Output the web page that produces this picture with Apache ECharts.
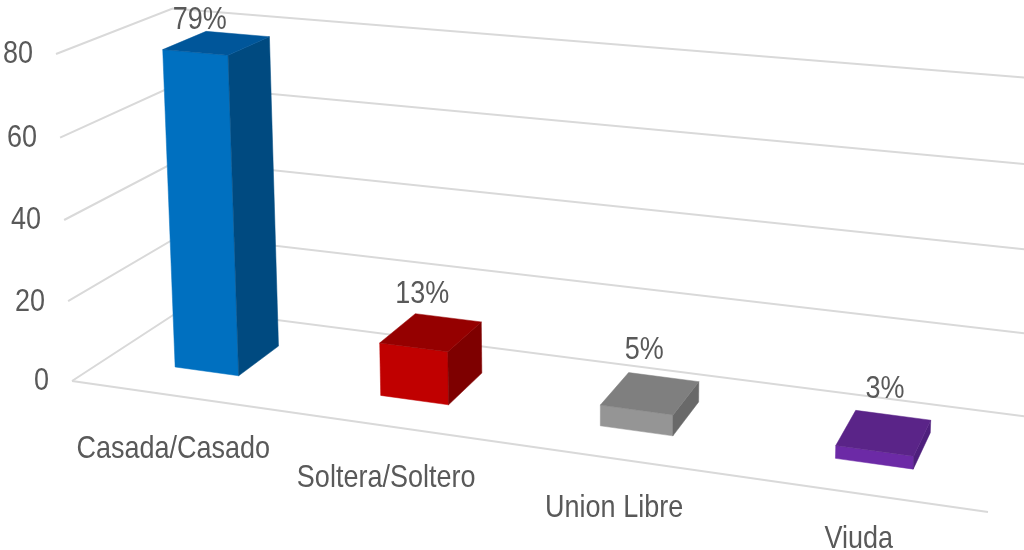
<!DOCTYPE html>
<html>
<head>
<meta charset="utf-8">
<title>Estado civil</title>
<style>
html, body { margin: 0; padding: 0; background: #fff; }
#chart { width: 1024px; height: 550px; }
</style>
<script src="https://cdn.jsdelivr.net/npm/echarts@6/dist/echarts.min.js"></script>
</head>
<body>
<div id="chart"></div>
<script>
// chart data
var categories = ['Casada/Casado', 'Soltera/Soltero', 'Union Libre', 'Viuda'];
var percentValues = [79, 13, 5, 3];
var yTicks = [0, 20, 40, 60, 80];
var frontColors = ['#0070C0', '#C00000', '#959595', '#6C2AA6'];
var sideColors = ['#004A80', '#7E0000', '#696969', '#4E1F7C'];
var topColors = ['#00569A', '#950000', '#7F7F7F', '#5A2488'];

// layout tweaks, in pixels
var valueLabelShift = [[-17, -22], [-9, -38], [-6, -43], [1, -43]];
var categoryLabelDrop = [54, 53, 50, 46];

var textColor = '#595959';
var lineColor = '#D9D9D9';
var fontSize = 27;
var textStretch = 1.13;
var barShare = 0.316;
var barDepth = [0.3, 0.69];

// perspective of the box: where the three edges from the near corner end up
var origin = [72, 381];
var endU = [988, 512], endV = [56, 54], endD = [184, 308];
var wU = -0.13, wV = -0.03, wD = 0.0967;

function edge(end, w) {
    return [end[0] * (1 + w) - origin[0], end[1] * (1 + w) - origin[1]];
}
var vecU = edge(endU, wU), vecV = edge(endV, wV), vecD = edge(endD, wD);

function project(u, v, d) {
    var w = 1 + wU * u + wV * v + wD * d;
    return [
        (origin[0] + vecU[0] * u + vecV[0] * v + vecD[0] * d) / w,
        (origin[1] + vecU[1] * u + vecV[1] * v + vecD[1] * d) / w
    ];
}

function label(text, pos, align) {
    return {
        type: 'text',
        x: pos[0],
        y: pos[1],
        scaleY: textStretch,
        style: {
            text: text,
            x: 0,
            y: 0,
            fill: textColor,
            font: fontSize + 'px "Liberation Sans", Arial, sans-serif',
            align: align || 'center',
            verticalAlign: 'middle'
        }
    };
}

function face(points, color) {
    return {
        type: 'polygon',
        shape: { points: points },
        style: { fill: color, stroke: color, lineWidth: 0.5 }
    };
}

function line(points) {
    return {
        type: 'polyline',
        shape: { points: points },
        style: { fill: null, stroke: lineColor, lineWidth: 2 }
    };
}

function renderWall(params, api) {
    var cs = params.coordSys;
    var tick = api.value(1);
    var v = 1 - (api.coord([0, tick])[1] - cs.y) / cs.height;
    var start = project(0, v, 0);
    var children = [
        line([start, project(0, v, 1), project(1.03, v, 1)]),
        label(String(tick), [start[0] - 23, start[1] + 1], 'right')
    ];
    if (tick === 0) {
        children.push(line([start, project(1, 0, 0)]));
    }
    return { type: 'group', children: children };
}

function renderBar(params, api) {
    var cs = params.coordSys;
    var i = params.dataIndex;
    var p = api.coord([api.value(0), api.value(1)]);
    var band = api.size([1, 0])[0] / cs.width;
    var u = (p[0] - cs.x) / cs.width;
    var v = 1 - (p[1] - cs.y) / cs.height;
    var u0 = u - band * barShare / 2, u1 = u + band * barShare / 2;
    var d0 = barDepth[0], d1 = barDepth[1];

    var topMid = project(u, v, (d0 + d1) / 2);
    var axisPos = project(u, 0, 0);

    return {
        type: 'group',
        children: [
            face([project(u0, 0, d0), project(u1, 0, d0), project(u1, v, d0), project(u0, v, d0)], frontColors[i]),
            face([project(u1, 0, d0), project(u1, 0, d1), project(u1, v, d1), project(u1, v, d0)], sideColors[i]),
            face([project(u0, v, d0), project(u1, v, d0), project(u1, v, d1), project(u0, v, d1)], topColors[i]),
            label(percentValues[i] + '%', [topMid[0] + valueLabelShift[i][0], topMid[1] + valueLabelShift[i][1]]),
            label(categories[i], [axisPos[0], axisPos[1] + categoryLabelDrop[i]])
        ]
    };
}

var myChart = echarts.init(document.getElementById('chart'), null, { renderer: 'canvas' });

myChart.setOption({
    animation: false,
    backgroundColor: '#fff',
    grid: { left: 0, right: 0, top: 0, bottom: 0 },
    xAxis: { type: 'category', data: categories, show: false },
    yAxis: { type: 'value', min: 0, max: 80, interval: 20, show: false },
    series: [
        {
            type: 'custom',
            renderItem: renderWall,
            encode: { x: 0, y: 1 },
            data: yTicks.map(function (t) { return [0, t]; }),
            silent: true,
            z: 1
        },
        {
            type: 'custom',
            renderItem: renderBar,
            encode: { x: 0, y: 1 },
            data: percentValues.map(function (val, i) { return [i, val]; }),
            silent: true,
            z: 2
        }
    ]
});
</script>
</body>
</html>
